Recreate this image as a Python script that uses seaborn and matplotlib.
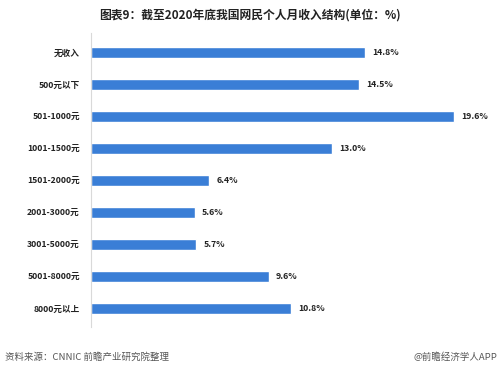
import matplotlib
matplotlib.use("Agg")
import matplotlib.pyplot as plt
import seaborn as sns
import pandas as pd

categories = ["无收入", "500元以下", "501-1000元", "1001-1500元", "1501-2000元",
              "2001-3000元", "3001-5000元", "5001-8000元", "8000元以上"]
values = [14.8, 14.5, 19.6, 13.0, 6.4, 5.6, 5.7, 9.6, 10.8]
value_labels = ["14.8%", "14.5%", "19.6%", "13.0%", "6.4%", "5.6%", "5.7%", "9.6%", "10.8%"]

sns.set_theme(style="white")
plt.rcParams['font.family'] = ['Noto Sans CJK SC', 'DejaVu Sans']

df = pd.DataFrame({"cat": categories, "val": values})

fig = plt.figure(figsize=(4.99, 3.74), dpi=100)
ax = fig.add_axes([91/499, 1-327/374, (480-91)/499, (327-33)/374])
sns.barplot(data=df, x="val", y="cat", orient="h", color="#3a7ed6",
            saturation=1, width=0.35, ax=ax)
ax.set_xlim(0, (480-91)/18.5)
ax.set_ylim(8.59, -0.62)
ax.set_xlabel("")
ax.set_ylabel("")
ax.set_xticks([])
for s in ["top", "right", "bottom"]:
    ax.spines[s].set_visible(False)
ax.spines["left"].set_color("#d9d9d9")
ax.spines["left"].set_linewidth(0.8)
ax.tick_params(axis="y", length=0, pad=8)
for t in ax.get_yticklabels():
    t.set_fontsize(6.2)
    t.set_fontweight("bold")
    t.set_color("#222222")
for i, (v, lab) in enumerate(zip(values, value_labels)):
    ax.text(v + 0.4, i, lab, va="center", ha="left", fontsize=6.3,
            fontweight="bold", color="#222222")

fig.text(0.5, 1-15/374, "图表9：截至2020年底我国网民个人月收入结构(单位：%)",
         ha="center", va="center", fontsize=8.5, fontweight="bold", color="#222222")
fig.text(5/499, 1-357/374, "资料来源：CNNIC 前瞻产业研究院整理",
         ha="left", va="center", fontsize=6.8, color="#555555")
fig.text(497/499, 1-357/374, "@前瞻经济学人APP",
         ha="right", va="center", fontsize=6.8, color="#555555")

fig.savefig("out.png", dpi=100)
